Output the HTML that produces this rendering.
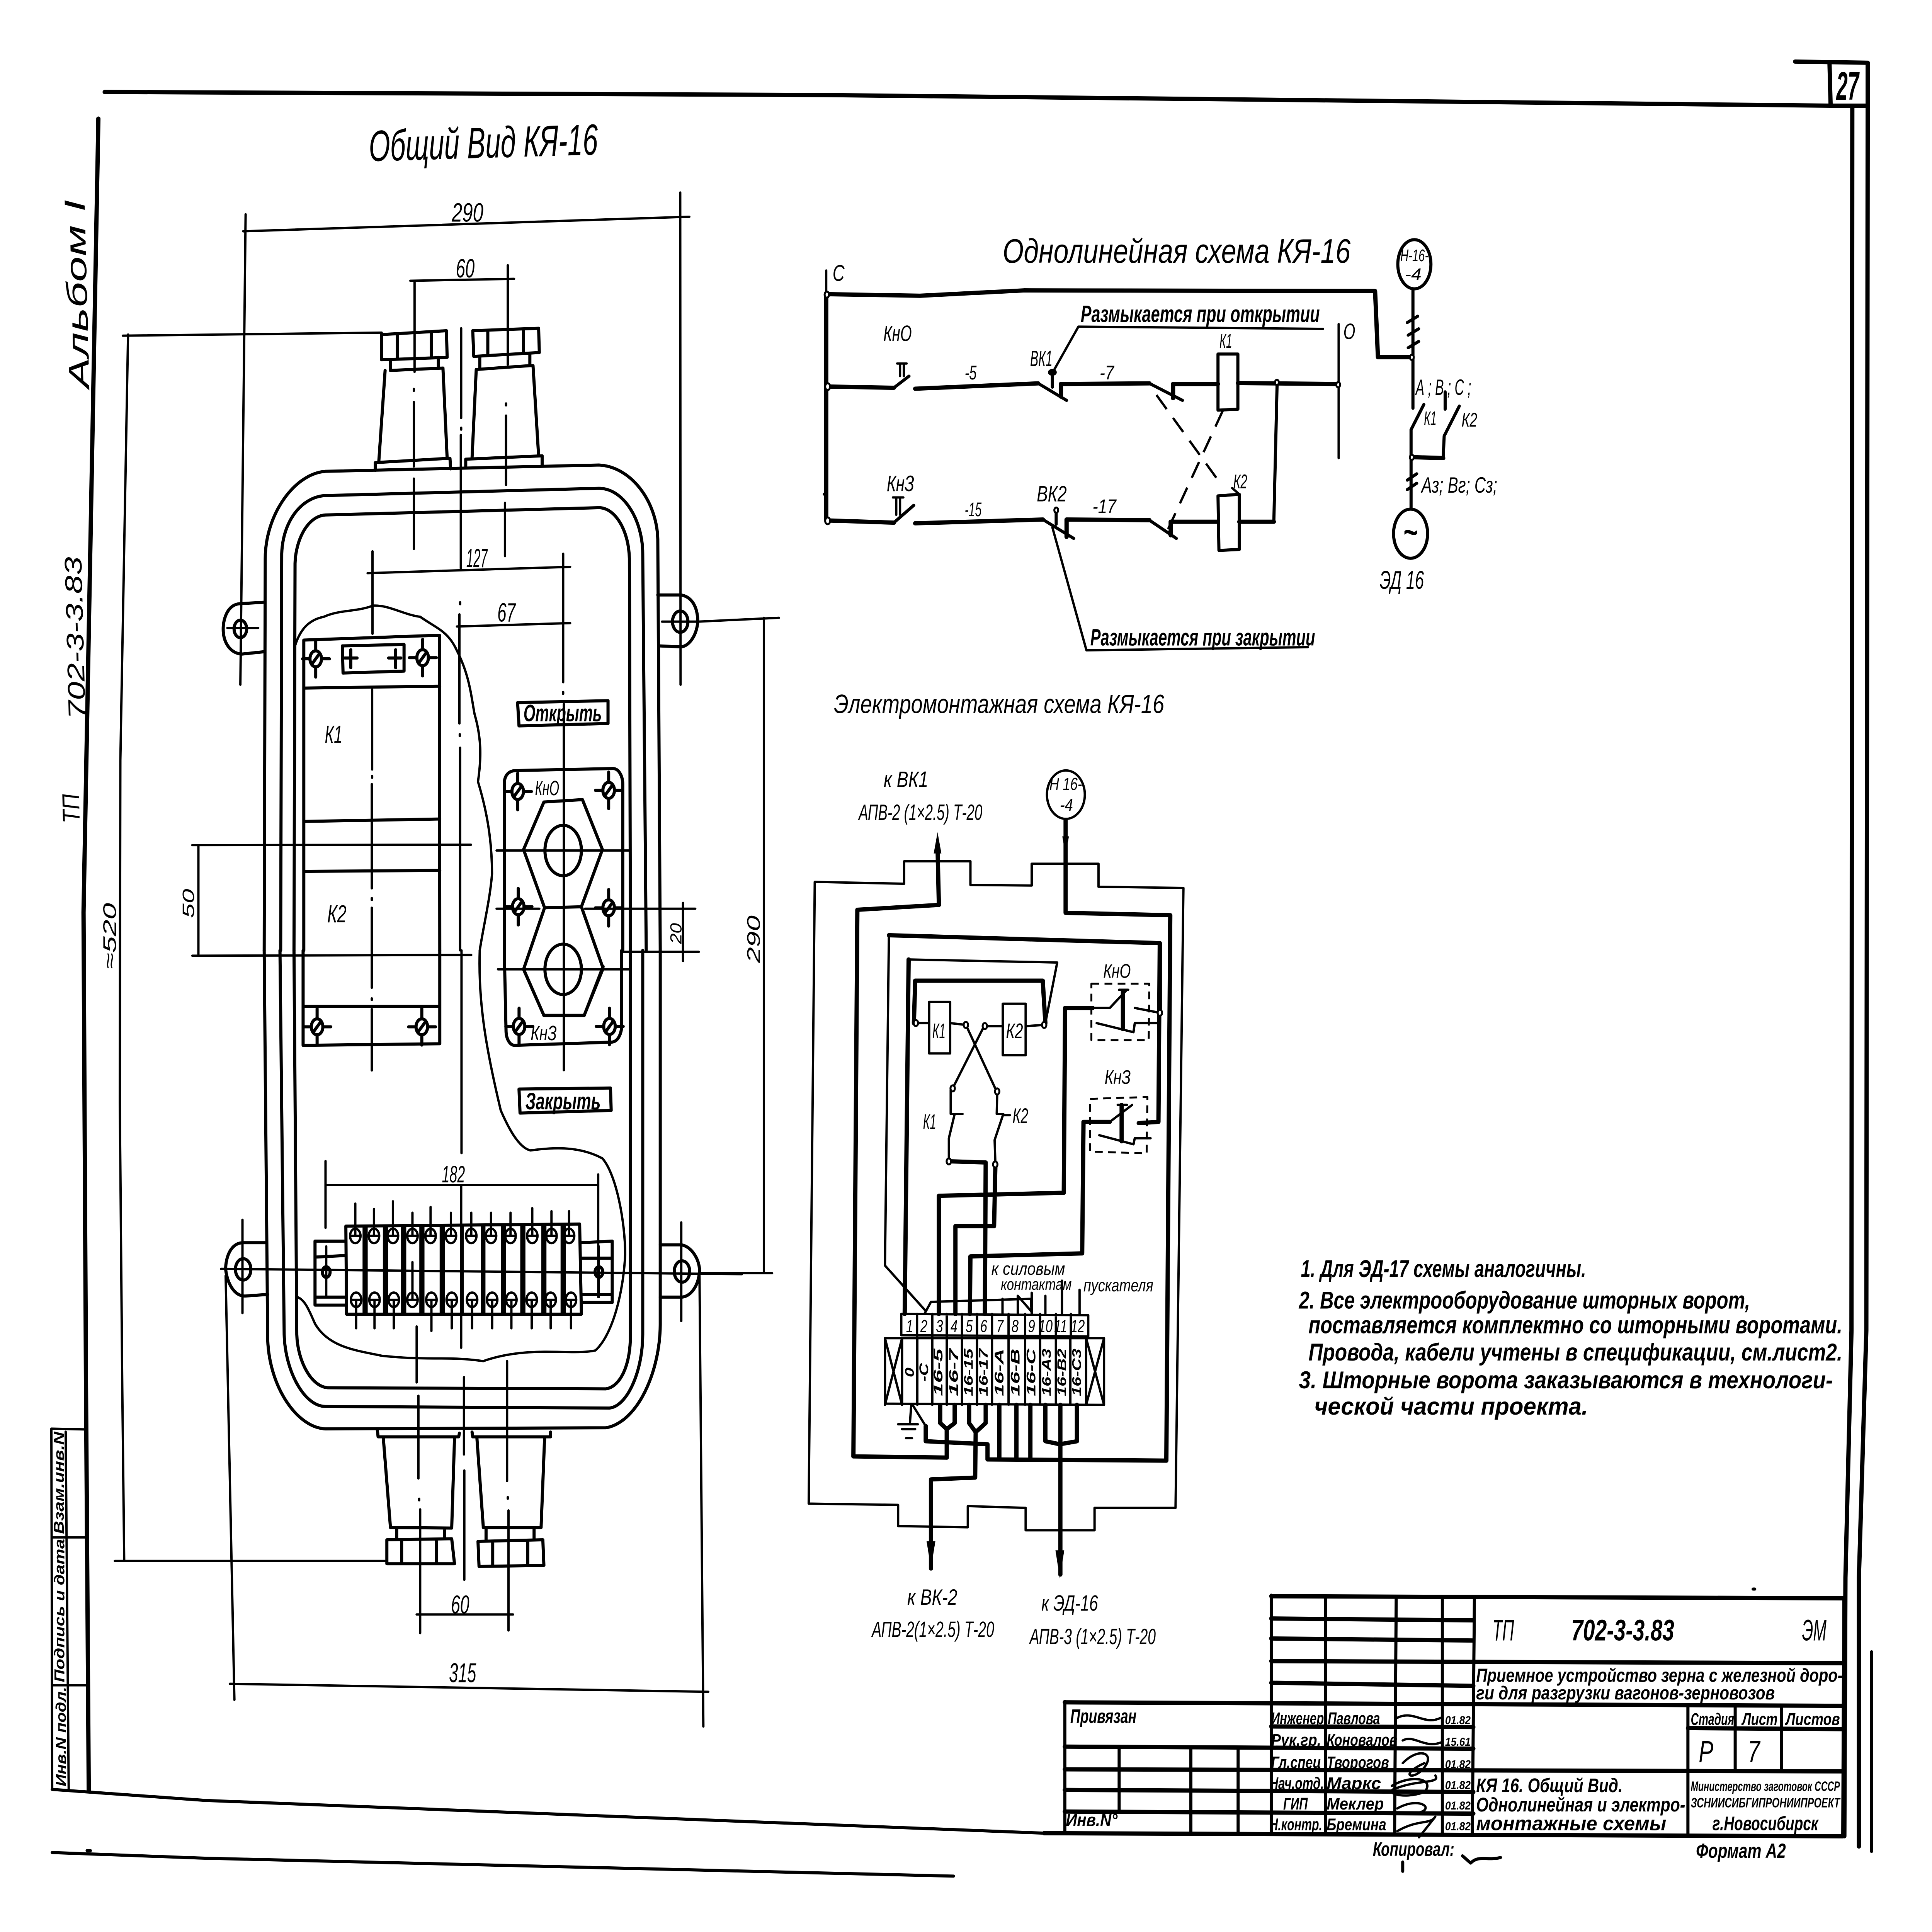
<!DOCTYPE html>
<html lang="ru"><head><meta charset="utf-8"><title>КЯ-16</title>
<style>
html,body{margin:0;padding:0;background:#fff;width:100%;height:100%;overflow:hidden}
svg{display:block;width:100vw;height:100vh}
svg *{vector-effect:non-scaling-stroke}
text{font-family:"Liberation Sans","DejaVu Sans",sans-serif;font-style:italic;fill:#000;stroke:none}
.b{font-weight:bold}
.l{fill:none;stroke:#000;stroke-width:8;stroke-linecap:round;stroke-linejoin:round}
.n{stroke-width:6}.h{stroke-width:11}.d{stroke-dasharray:45 28;stroke-linecap:butt}.e{stroke-dasharray:20 14;stroke-linecap:butt;stroke-width:5}
</style></head><body>
<svg xmlns="http://www.w3.org/2000/svg" viewBox="0 0 7031 5082" preserveAspectRatio="none">
<rect width="7031" height="5082" fill="#fff"/>

<!-- FRAME -->
<g class="l">
<path class="h" d="M381 242L3000 250L6658 278"/>
<path class="h" d="M358 312L304 2400L313 3650L323 4711"/>
<path class="h" d="M6533 162L6797 165L6797 280L6792 3500L6765 4150L6765 4857"/>
<path class="h" d="M6658 165L6662 278L6797 278"/>
<path class="h" d="M6741 280L6738 3500L6716 4150L6712 4830"/>
<path d="M6811 4345L6811 4870"/>
<path d="M190 4707L750 4736L3800 4822"/>
<path d="M190 4873L750 4888L3470 4935"/>
<path class="n" d="M187 3758L313 3760M187 3758L190 4707M239 3766L250 4707M188 4044H315M193 4433H322"/>
<path d="M317 4868h12M3000 1300h6M6380 4180h6"/>
<path class="n" d="M418 4106L1401 4106"/>
<path class="n" d="M466 880L438 2000L436 2900L445 3650L452 4106"/>
<path class="n" d="M447 883L1389 875"/>
<path class="n" d="M700 2223L1714 2222M700 2514L1715 2512M722 2223L722 2510"/>
<path class="n" d="M2546 1635L2835 1625M2548 3349L2810 3349M2780 1625L2780 3349"/>
</g>

<!-- ENCLOSURE TOP (crop 1 coordinates) -->
<g class="l" transform="translate(700,500) scale(1.2755)">
<path d="M205 1568L208 760C208 670 290 585 380 580L1160 567C1250 570 1325 640 1328 720L1335 1568"/>
<path d="M252 1568L255 750C258 680 315 632 380 630L1160 615C1230 615 1285 680 1285 750L1295 1568"/>
<path d="M290 1568L293 770C295 720 330 672 380 670L1160 655C1205 655 1245 700 1247 760L1250 1568"/>
<path d="M205 850L135 853C100 855 88 885 88 905C88 935 110 955 140 957L205 952"/>
<circle cx="137" cy="905" r="18"/><path class="n" d="M100 903H188"/>
<path d="M1328 835L1395 835C1430 840 1442 865 1442 890C1440 915 1420 940 1395 942L1330 940"/>
<circle cx="1392" cy="890" r="22"/><path class="n" d="M1340 890H1445"/>
<path class="n" d="M145 85L1418 55M152 50L137 1020M1392 5L1393 1020"/>
<path class="n" d="M622 187L918 183M634 187V375M900 155V360"/>
<path d="M540 298L725 290L727 345L540 350ZM585 298V348M682 292V346M565 350V372M702 345V367M565 372L715 367M550 372L532 560M715 367L727 553M522 578V562L735 553L737 575"/>
<path d="M800 290L988 285L990 335L803 343ZM843 290V340M945 287V336M820 345V368M963 338V362M810 370L963 362L972 362M810 370L798 553M972 362L988 548M780 570V555L998 548V567"/>
<path class="n" d="M632 437V570M632 595V740M632 410v4M895 465V608M892 645V755M895 440v4M767 285V470M767 490v4M766 505V780M764 850v4M762 875V1100M763 1122v4M764 1150V1568"/>
<path class="n" d="M500 790L1078 777M514 745V915M1058 750V1015M1058 1035v4M1060 1060V1195M755 900L1078 893"/>
<path class="n" d="M293 940C310 900 340 885 375 880C420 865 470 870 515 857C560 855 600 875 650 880C700 905 730 910 755 950C790 1000 795 1040 805 1080C825 1130 825 1170 815 1220C840 1280 855 1340 855 1410C850 1460 830 1520 820 1568"/>
<path d="M318 1568V928L705 918L706 1568M320 1027L706 1023M320 1302L706 1297M318 1405L706 1403"/>
<path d="M428 940L604 937V992L430 996ZM435 965H470M452 948V985M560 965H595M580 948V985"/>
<path class="n" d="M513 1030V1195M513 1208v4M512 1225V1440M512 1460v4M512 1480V1568"/>
<path d="M928 1057L1186 1053V1100L932 1105Z"/>
<path d="M890 1568V1225C890 1205 905 1197 925 1197L1200 1193C1218 1193 1228 1210 1228 1225V1568"/>
<path d="M945 1360L1003 1262L1113 1257L1170 1360L1110 1478L1005 1480ZM1005 1480L945 1607L1003 1702H1118L1172 1605L1110 1478"/>
<circle cx="1058" cy="1362" r="52"/><circle cx="1058" cy="1607" r="52"/>
<path class="n" d="M1060 1105V1815M868 1362H1250M868 1482H990M1120 1482H1435M872 1607H1250M1230 1571H1445M1400 1470V1590"/>
</g>

<!-- ENCLOSURE BOTTOM (crop 2 coordinates) -->
<g class="l" transform="translate(700,2500) scale(1.2755,1.403)">
<path d="M205 0L215 730C220 820 300 895 380 897L1180 895C1270 885 1335 790 1335 700L1335 0"/>
<path d="M250 0L262 720C265 790 320 855 380 855L1190 858C1240 855 1285 790 1285 720V0"/>
<path d="M290 0L298 720C300 770 340 820 390 820L1180 822C1220 818 1250 780 1250 720V0"/>
<path d="M210 548L145 548C110 548 95 575 95 598C100 625 120 648 150 648L215 645"/>
<ellipse cx="145" cy="598" rx="22" ry="20"/>
<path d="M1335 552L1395 552C1425 555 1447 580 1447 600C1445 630 1420 650 1395 650L1335 650"/>
<ellipse cx="1397" cy="602" rx="22" ry="20"/>
<path class="n" d="M143 505V680M1395 510V695M82 597L1568 607"/>
<path class="n" d="M95 610L120 1405M1447 610L1458 1455M107 1375L1472 1390"/>
<path class="n" d="M640 1245L915 1245M640 705V810M645 835V990M647 1028v3M650 1048V1280M898 770V995M900 1025v3M902 1050V1275"/>
<path class="n" d="M768 0V380M767 440V745M775 800V945M776 975V1180"/>
<path d="M528 900L530 912H760L762 905M545 915L565 1080M748 915L740 1083M565 1082L740 1083M583 1083V1103M720 1083V1103M555 1105L740 1103L748 1150H555ZM597 1105V1150M697 1105V1150"/>
<path d="M798 903L800 912H1022V903M812 915L830 1080M1005 915L995 1082M830 1082L995 1082M838 1083V1105M975 1083V1105M815 1108L1000 1105L1003 1153L818 1155ZM857 1108V1153M957 1106V1153"/>
<path d="M316 0V178L706 175V0M316 105H706"/>
<path class="n" d="M512 0V70M512 90v3M512 110V225"/>
<path d="M890 0L895 150C895 165 905 178 920 178L1195 172C1215 172 1225 155 1225 140V0"/>
<path d="M945 35L1003 122H1118L1172 30"/>
<path d="M932 260L1193 258L1195 300L935 305Z"/>
<path class="n" d="M820 0C815 100 840 190 880 300C900 330 930 370 965 375C1020 370 1100 365 1170 390C1210 420 1235 510 1235 570C1230 640 1200 720 1150 750C1080 760 960 740 830 770C720 760 690 770 540 760C470 750 390 745 350 700C330 670 320 655 300 650"/>
<path d="M438 517L1105 513L1110 682L440 682Z"/>
<path d="M490 517V682M548 517V682M600 517V682M652 517V682M710 517V682M770 517V682M828 517V682M885 517V682M940 517V682M1000 517V682M1055 517V682"/>
<path class="n" d="M497 517V682M555 517V682M607 517V682M659 517V682M717 517V682M833 517V682M892 517V682M947 517V682M1007 517V682M1062 517V682"/>
<path d="M438 545H350V665H440M350 575L438 572M350 650H438M1110 548L1198 545V660H1110M1110 577H1198M1110 645H1198"/>
<ellipse cx="382" cy="603" rx="11" ry="10"/><ellipse cx="1160" cy="603" rx="11" ry="10"/>
<path class="n" d="M382 555V650M1160 555V650M385 440L1158 440M380 395V520M1158 420V650"/>
</g>

<!-- screws -->
<g class="l">
<g transform="translate(1149,1733)"><circle r="21"/><path d="M-13 13L13-13M-48 0H-21M21 0H50M0-48V-21M0 21V48"/></g>
<g transform="translate(1538,1730)"><circle r="21"/><path d="M-13 13L13-13M-48 0H-21M21 0H50M0-48V-21M0 21V48"/></g>
<g transform="translate(1154,2701)"><circle r="21"/><path d="M-13 13L13-13M-48 0H-21M21 0H50M0-48V-21M0 21V48"/></g>
<g transform="translate(1535,2701)"><circle r="21"/><path d="M-13 13L13-13M-48 0H-21M21 0H50M0-48V-21M0 21V48"/></g>
<g transform="translate(1884,2082)"><circle r="21"/><path d="M-13 13L13-13M-48 0H-21M21 0H50M0-48V-21M0 21V48"/></g>
<g transform="translate(2215,2079)"><circle r="21"/><path d="M-13 13L13-13M-48 0H-21M21 0H50M0-48V-21M0 21V48"/></g>
<g transform="translate(1886,2385)"><circle r="21"/><path d="M-13 13L13-13M-48 0H-21M21 0H50M0-48V-21M0 21V48"/></g>
<g transform="translate(2215,2388)"><circle r="21"/><path d="M-13 13L13-13M-48 0H-21M21 0H50M0-48V-21M0 21V48"/></g>
<g transform="translate(1889,2700)"><circle r="21"/><path d="M-13 13L13-13M-48 0H-21M21 0H50M0-48V-21M0 21V48"/></g>
<g transform="translate(2218,2700)"><circle r="21"/><path d="M-13 13L13-13M-48 0H-21M21 0H50M0-48V-21M0 21V48"/></g>
</g>
<g class="l n">
<circle cx="1293" cy="3251" r="19"/><circle cx="1361" cy="3251" r="19"/><circle cx="1430" cy="3251" r="19"/><circle cx="1501" cy="3251" r="19"/><circle cx="1567" cy="3251" r="19"/><circle cx="1641" cy="3251" r="19"/><circle cx="1715" cy="3251" r="19"/><circle cx="1787" cy="3251" r="19"/><circle cx="1858" cy="3251" r="19"/><circle cx="1937" cy="3251" r="19"/><circle cx="2007" cy="3251" r="19"/><circle cx="2071" cy="3251" r="19"/>
<circle cx="1296" cy="3419" r="19"/><circle cx="1363" cy="3419" r="19"/><circle cx="1433" cy="3419" r="19"/><circle cx="1501" cy="3419" r="19"/><circle cx="1570" cy="3419" r="19"/><circle cx="1644" cy="3419" r="19"/><circle cx="1718" cy="3419" r="19"/><circle cx="1791" cy="3419" r="19"/><circle cx="1861" cy="3419" r="19"/><circle cx="1935" cy="3419" r="19"/><circle cx="2004" cy="3419" r="19"/><circle cx="2078" cy="3419" r="19"/>
<path d="M1274 3251h38M1293 3166v85M1342 3251h38M1361 3180v71M1411 3251h38M1430 3160v91M1482 3251h38M1501 3190v61M1548 3251h38M1567 3175v76M1622 3251h38M1641 3190v61M1696 3251h38M1715 3190v61M1768 3251h38M1787 3190v61M1839 3251h38M1858 3190v61M1918 3251h38M1937 3178v73M1988 3251h38M2007 3186v65M2052 3251h38M2071 3186v65"/>
<path d="M1277 3419h38M1296 3419v75M1344 3419h38M1363 3419v75M1414 3419h38M1433 3419v75M1482 3419h38M1501 3320v99M1551 3419h38M1570 3419v82M1625 3419h38M1644 3419v75M1699 3419h38M1718 3419v75M1772 3419h38M1791 3419v75M1842 3419h38M1861 3419v75M1916 3419h38M1935 3419v75M1985 3419h38M2004 3419v75M2059 3419h38M2078 3419v75"/>
</g>

<!-- SINGLE-LINE DIAGRAM (crop 3 coordinates) -->
<g class="l" transform="translate(2900,550) scale(1.722,.829)">
<path class="n" d="M62 195V270"/>
<path class="h" d="M62 270V985"/>
<path class="h" d="M65 270L260 275L480 258L1222 260L1228 470L1298 470"/>
<path class="h" d="M65 563L205 567M250 570L510 553M558 595V555L745 553M795 600V555L890 555M932 552L1145 555"/>
<path d="M205 567L237 530M510 553L570 607M745 553L815 607"/>
<path class="n" d="M212 490H232M218 490V530M226 490V530"/>
<path d="M540 520V565"/>
<circle cx="540" cy="518" r="6"/>
<path d="M890 460H932V635L890 638Z"/>
<path class="n" d="M1145 365V790"/>
<path class="n" d="M540 520L595 373L1112 380"/>
<path class="h" d="M65 988L205 995M250 997L520 985M570 1040V985L745 987M790 1035V992L890 992M935 992L1008 992"/>
<path d="M205 995L247 940M520 985L585 1045M745 987L802 1045M1008 992L1015 550"/>
<path class="n" d="M203 915H225M210 915V970M218 915V970"/>
<path d="M548 960V1000"/>
<path d="M890 910L935 905V1080L892 1083Z"/>
<path class="n" d="M540 1010L612 1400L1080 1390M920 885L935 905"/>
<path class="n d" d="M760 590L890 860M900 640L780 1030"/>
<ellipse cx="1305" cy="175" rx="35" ry="78"/>
<path d="M1302 255V632M1290 360L1312 340M1292 400L1314 380M1292 440L1314 420M1370 580V635M1325 620L1298 700V950M1400 625L1368 720L1366 788M1290 860L1310 840M1290 890L1310 870"/>
<path class="h" d="M1298 787L1366 790"/>
<ellipse cx="1297" cy="1030" rx="36" ry="78"/>
</g>
<g fill="#fff" stroke="#000" stroke-width="5">
<circle cx="3009" cy="775" r="8"/><circle cx="3012" cy="1017" r="9"/><circle cx="3012" cy="1370" r="9"/>
<circle cx="4647" cy="1006" r="7"/><circle cx="4870" cy="1012" r="7"/><circle cx="5138" cy="940" r="7"/><circle cx="5138" cy="1203" r="7"/><circle cx="3844" cy="1342" r="7"/>
</g>

<!-- WIRING DIAGRAM (crop 4 coordinates) -->
<g class="l n" transform="translate(2900,1950) scale(.957,1.594)">
<path d="M68 232L408 235V198H660V237L893 238V202H1147V240L1470 242L1440 1265H1132V1302H870V1265L650 1262V1297L385 1295V1260L45 1258Z"/>
<path class="h" d="M540 270L535 175M540 270L230 278L215 1180L570 1182V1135"/>
<path class="h" d="M1022 130V283L1420 287L1405 1187L725 1185V1160L490 1155V1130"/>
<path class="h" d="M350 320L1380 333V445"/>
<path d="M350 320L335 865L490 940M425 360L990 365L945 465"/>
<path class="h" d="M1380 333L1375 628L1300 630M425 360L410 945M450 395H935L945 465M450 395L445 465"/>
<path d="M503 430H583V515H503ZM783 433H870V518H783ZM452 465H503M583 465L643 468M715 470H783M870 470L940 468M645 470L760 578M712 470L592 573"/>
<path d="M585 575V615H600L578 655V693M600 615H630M762 578L760 615H785L752 658L755 698M785 617H810"/>
<path class="h" d="M578 693L718 695L715 945M755 698L750 800L603 800V945M540 945V750L1015 745L1020 440L1125 440M658 945L660 850L1085 845L1090 628H1190"/>
<path d="M1125 440H1190L1255 410M1190 628L1275 600M1140 465L1280 480M1280 480L1285 465H1380M1285 440L1380 448M1150 650L1280 665L1285 655H1345"/>
<path class="h" d="M1240 412V475M1235 600V660"/>
<path d="M1225 410H1260M1220 600H1255"/>
<path class="e" d="M1120 400H1340L1338 493H1120ZM1115 590L1333 587L1330 680L1115 677Z"/>
<path d="M397 945L1108 947V982L397 980ZM457 945V985M515 945V985M570 945V985M628 945V985M685 945V985M742 945V985M805 945V985M868 945V985M925 945V985M985 945V985M1042 945V985"/>
<path d="M335 985H1168V1095L335 1093ZM400 985V1095M458 985V1095M515 985V1095M570 985V1095M628 985V1095M685 985V1095M742 985V1095M805 985V1095M868 985V1095M925 985V1095M985 985V1095M1040 985V1095M1100 985V1095"/>
<path d="M335 985L400 1095M400 985L335 1095M1100 985L1168 1095M1168 985L1100 1095"/>
<path d="M485 945L510 925L890 920L893 945M782 945V920M840 945V915L890 940M893 910V945M945 915V945M1008 890V945M1075 905V945"/>
<path class="h" d="M545 1095V1125L570 1135L600 1125V1095M570 1135V1182M655 1095V1125L680 1140L718 1125V1095M680 1140L678 1215L510 1218V1365M770 1095V1185M835 1095V1185M888 1095V1185M945 1095V1155L1000 1160L1065 1155V1095M1002 1095V1375"/>
<path d="M435 1095L430 1125M385 1127H460M400 1135H450M415 1150H438M440 1095L490 1130"/>
<ellipse cx="1023" cy="88" rx="72" ry="40"/>
</g>
<g fill="#000">
<path d="M3398 2245L3426 2245L3412 2189Z M3866 2200L3890 2200L3878 2250Z M3372 4054L3404 4054L3388 4126Z M3841 4078L3873 4078L3857 4152Z"/>
</g>
<g fill="#fff" stroke="#000" stroke-width="5">
<circle cx="3333" cy="2691" r="8"/><circle cx="3515" cy="2696" r="8"/><circle cx="3584" cy="2699" r="8"/><circle cx="3800" cy="2696" r="8"/>
<circle cx="3467" cy="2863" r="8"/><circle cx="3629" cy="2871" r="8"/><circle cx="3453" cy="3055" r="8"/><circle cx="3622" cy="3063" r="8"/><circle cx="4221" cy="2664" r="8"/>
</g>

<!-- TITLE BLOCK (crop 5 coordinates) -->
<g class="l" transform="translate(3800,4150) scale(1.977,.542)">
<path class="h" d="M418 90L1472 100M418 198L790 207M418 295L790 305M418 405L1472 415M418 510L790 525M38 605L1472 622M418 722L790 725M38 820L790 830M38 930L1470 940M38 1030L790 1040M38 1135L790 1145M0 1240L1470 1255M1185 730L1470 735"/>
<path d="M418 85V1240M518 100V1240M648 105L645 1240M733 105V1250M792 105L788 1245M1185 622V1250M1272 625V935M1357 625V935M1472 100L1470 1250M38 600V1240M138 825V1135M270 825V1240M357 825V1240"/>
<path class="n" d="M650 680C680 640 700 720 730 680M660 790C680 760 700 830 730 800M660 900C690 820 720 850 700 920C680 990 650 960 700 900M640 1010C680 950 720 980 700 1040C660 1080 620 1040 650 1020C690 980 730 1000 720 960M650 1120C690 1060 720 1120 690 1140M650 1230C690 1170 710 1200 720 1160L690 1260"/>
<path d="M770 1350L785 1385C800 1345 815 1375 840 1358M660 1380V1425"/>
</g>

<!-- TEXT -->
<text x="1343" y="424" font-size="115" textLength="834" lengthAdjust="spacingAndGlyphs" transform="rotate(-1.2 1343 424)">Общий  Вид  КЯ-16</text>
<text transform="translate(325,1021) rotate(-92)" font-size="105" textLength="498" lengthAdjust="spacingAndGlyphs">Альбом  I</text>
<text transform="translate(311,1890) rotate(-92)" font-size="88" textLength="427" lengthAdjust="spacingAndGlyphs">702-3-3.83</text>
<text transform="translate(290,2164) rotate(-92)" font-size="88" textLength="77" lengthAdjust="spacingAndGlyphs">ТП</text>
<text transform="translate(232,4035) rotate(-90)" class="b" font-size="52" textLength="269" lengthAdjust="spacingAndGlyphs">Взам.инв.N</text>
<text transform="translate(234,4425) rotate(-90)" class="b" font-size="52" textLength="377" lengthAdjust="spacingAndGlyphs">Подпись и дата</text>
<text transform="translate(240,4699) rotate(-90)" class="b" font-size="52" textLength="262" lengthAdjust="spacingAndGlyphs">Инв.N подл.</text>
<text x="6683" y="262" class="b" font-size="105" textLength="82" lengthAdjust="spacingAndGlyphs">27</text>

<text x="1644" y="583" font-size="70" textLength="115" lengthAdjust="spacingAndGlyphs">290</text>
<text x="1659" y="730" font-size="70" textLength="68" lengthAdjust="spacingAndGlyphs">60</text>
<text x="1697" y="1492" font-size="70" textLength="77" lengthAdjust="spacingAndGlyphs">127</text>
<text x="1810" y="1635" font-size="70" textLength="66" lengthAdjust="spacingAndGlyphs">67</text>
<text x="1182" y="1954" font-size="65" textLength="64" lengthAdjust="spacingAndGlyphs">К1</text>
<text x="1191" y="2426" font-size="65" textLength="70" lengthAdjust="spacingAndGlyphs">К2</text>
<text transform="translate(706,2415) rotate(-90)" font-size="60" textLength="77" lengthAdjust="spacingAndGlyphs">50</text>
<text transform="translate(2480,2483) rotate(-90)" font-size="58" textLength="55" lengthAdjust="spacingAndGlyphs">20</text>
<text transform="translate(2765,2533) rotate(-90)" font-size="66" textLength="125" lengthAdjust="spacingAndGlyphs">290</text>
<text transform="translate(422,2550) rotate(-90)" font-size="66" textLength="175" lengthAdjust="spacingAndGlyphs">≈520</text>
<text x="1905" y="1897" class="b" font-size="62" textLength="285" lengthAdjust="spacingAndGlyphs">Открыть</text>
<text x="1947" y="2092" font-size="55" textLength="88" lengthAdjust="spacingAndGlyphs">КнО</text>
<text x="1931" y="2736" font-size="55" textLength="95" lengthAdjust="spacingAndGlyphs">КнЗ</text>
<text x="1912" y="2918" class="b" font-size="62" textLength="274" lengthAdjust="spacingAndGlyphs">Закрыть</text>
<text x="1608" y="3110" font-size="62" textLength="84" lengthAdjust="spacingAndGlyphs">182</text>
<text x="1641" y="4244" font-size="68" textLength="67" lengthAdjust="spacingAndGlyphs">60</text>
<text x="1634" y="4425" font-size="72" textLength="99" lengthAdjust="spacingAndGlyphs">315</text>

<text x="3649" y="691" font-size="90" textLength="1266" lengthAdjust="spacingAndGlyphs">Однолинейная   схема КЯ-16</text>
<text x="3933" y="847" class="b" font-size="62" textLength="870" lengthAdjust="spacingAndGlyphs">Размыкается при открытии</text>
<text x="3968" y="1698" class="b" font-size="62" textLength="818" lengthAdjust="spacingAndGlyphs">Размыкается при закрытии</text>
<text x="3030" y="739" font-size="60">С</text>
<text x="3215" y="897" font-size="58" textLength="103" lengthAdjust="spacingAndGlyphs">КнО</text>
<text x="3227" y="1292" font-size="58" textLength="100" lengthAdjust="spacingAndGlyphs">КнЗ</text>
<text x="3749" y="963" font-size="58" textLength="81" lengthAdjust="spacingAndGlyphs">ВК1</text>
<text x="3773" y="1319" font-size="58" textLength="109" lengthAdjust="spacingAndGlyphs">ВК2</text>
<text x="3511" y="998" font-size="52" textLength="43" lengthAdjust="spacingAndGlyphs">-5</text>
<text x="4002" y="998" font-size="52" textLength="52" lengthAdjust="spacingAndGlyphs">-7</text>
<text x="3511" y="1358" font-size="52" textLength="61" lengthAdjust="spacingAndGlyphs">-15</text>
<text x="3976" y="1350" font-size="52" textLength="86" lengthAdjust="spacingAndGlyphs">-17</text>
<text x="4438" y="915" font-size="52" textLength="46" lengthAdjust="spacingAndGlyphs">К1</text>
<text x="4488" y="1284" font-size="52" textLength="51" lengthAdjust="spacingAndGlyphs">К2</text>
<text x="4889" y="892" font-size="58" textLength="43" lengthAdjust="spacingAndGlyphs">О</text>
<text x="5096" y="687" font-size="44" textLength="103" lengthAdjust="spacingAndGlyphs">Н-16-</text>
<text x="5113" y="737" font-size="44" textLength="60" lengthAdjust="spacingAndGlyphs">-4</text>
<text x="5152" y="1039" font-size="58" textLength="202" lengthAdjust="spacingAndGlyphs">А ; В ; С ;</text>
<text x="5182" y="1118" font-size="52" textLength="46" lengthAdjust="spacingAndGlyphs">К1</text>
<text x="5319" y="1122" font-size="52" textLength="57" lengthAdjust="spacingAndGlyphs">К2</text>
<text x="5173" y="1296" font-size="58" textLength="276" lengthAdjust="spacingAndGlyphs">Аз; Вг; Сз;</text>
<text x="5106" y="1430" font-size="90" font-weight="bold">~</text>
<text x="5021" y="1549" font-size="68" textLength="161" lengthAdjust="spacingAndGlyphs">ЭД 16</text>

<text x="3035" y="1876" font-size="70" textLength="1202" lengthAdjust="spacingAndGlyphs">Электромонтажная схема КЯ-16</text>
<text x="3216" y="2070" font-size="58" textLength="162" lengthAdjust="spacingAndGlyphs">к ВК1</text>
<text x="3125" y="2157" font-size="58" textLength="450" lengthAdjust="spacingAndGlyphs">АПВ-2 (1×2.5) Т-20</text>
<text x="3819" y="2078" font-size="46" textLength="119" lengthAdjust="spacingAndGlyphs">Н 16-</text>
<text x="3857" y="2133" font-size="46" textLength="48" lengthAdjust="spacingAndGlyphs">-4</text>
<text x="3393" y="2731" font-size="56" textLength="48" lengthAdjust="spacingAndGlyphs">К1</text>
<text x="3661" y="2731" font-size="56" textLength="62" lengthAdjust="spacingAndGlyphs">К2</text>
<text x="3359" y="2970" font-size="56" textLength="48" lengthAdjust="spacingAndGlyphs">К1</text>
<text x="3685" y="2954" font-size="56" textLength="57" lengthAdjust="spacingAndGlyphs">К2</text>
<text x="4015" y="2572" font-size="52" textLength="100" lengthAdjust="spacingAndGlyphs">КнО</text>
<text x="4020" y="2851" font-size="52" textLength="95" lengthAdjust="spacingAndGlyphs">КнЗ</text>
<text x="3302" y="4221" font-size="58" textLength="182" lengthAdjust="spacingAndGlyphs">к ВК-2</text>
<text x="3173" y="4306" font-size="58" textLength="445" lengthAdjust="spacingAndGlyphs">АПВ-2(1×2.5) Т-20</text>
<text x="3790" y="4237" font-size="58" textLength="206" lengthAdjust="spacingAndGlyphs">к ЭД-16</text>
<text x="3747" y="4325" font-size="58" textLength="459" lengthAdjust="spacingAndGlyphs">АПВ-3 (1×2.5) Т-20</text>
<text x="3608" y="3353" font-size="46" textLength="268" lengthAdjust="spacingAndGlyphs">к силовым</text>
<text x="3642" y="3393" font-size="42" textLength="258" lengthAdjust="spacingAndGlyphs">контактам</text>
<text x="3943" y="3397" font-size="46" textLength="254" lengthAdjust="spacingAndGlyphs">пускателя</text>
<g font-size="46" text-anchor="middle">
<text x="3310" y="3504">1</text><text x="3362" y="3504">2</text><text x="3419" y="3504">3</text><text x="3472" y="3504">4</text><text x="3527" y="3504">5</text><text x="3580" y="3504">6</text><text x="3639" y="3504">7</text><text x="3694" y="3504">8</text><text x="3754" y="3504">9</text><text x="3805" y="3504">10</text><text x="3860" y="3504">11</text><text x="3922" y="3504">12</text>
</g>
<g font-size="46" class="b" text-anchor="middle">
<text transform="translate(3326,3610) rotate(-90)">0</text>
<text transform="translate(3378,3610) rotate(-90)">-С</text>
<text transform="translate(3430,3610) rotate(-90)" textLength="125" lengthAdjust="spacingAndGlyphs">16-5</text>
<text transform="translate(3486,3610) rotate(-90)" textLength="125" lengthAdjust="spacingAndGlyphs">16-7</text>
<text transform="translate(3540,3610) rotate(-90)" textLength="125" lengthAdjust="spacingAndGlyphs">16-15</text>
<text transform="translate(3594,3610) rotate(-90)" textLength="125" lengthAdjust="spacingAndGlyphs">16-17</text>
<text transform="translate(3652,3610) rotate(-90)" textLength="125" lengthAdjust="spacingAndGlyphs">16-А</text>
<text transform="translate(3710,3610) rotate(-90)" textLength="125" lengthAdjust="spacingAndGlyphs">16-В</text>
<text transform="translate(3768,3610) rotate(-90)" textLength="125" lengthAdjust="spacingAndGlyphs">16-С</text>
<text transform="translate(3824,3610) rotate(-90)" textLength="125" lengthAdjust="spacingAndGlyphs">16-А3</text>
<text transform="translate(3880,3610) rotate(-90)" textLength="125" lengthAdjust="spacingAndGlyphs">16-В2</text>
<text transform="translate(3934,3610) rotate(-90)" textLength="125" lengthAdjust="spacingAndGlyphs">16-С3</text>
</g>

<g class="b" font-size="64">
<text x="4734" y="3359" textLength="1038" lengthAdjust="spacingAndGlyphs">1. Для ЭД-17 схемы  аналогичны.</text>
<text x="4727" y="3442" textLength="1642" lengthAdjust="spacingAndGlyphs">2. Все электрооборудование шторных ворот,</text>
<text x="4762" y="3507" textLength="1943" lengthAdjust="spacingAndGlyphs">поставляется комплектно со шторными воротами.</text>
<text x="4762" y="3579" textLength="1943" lengthAdjust="spacingAndGlyphs">Провода, кабели учтены в спецификации, см.лист2.</text>
<text x="4727" y="3652" textLength="1943" lengthAdjust="spacingAndGlyphs">3. Шторные ворота заказываются в технологи-</text>
<text x="4783" y="3721" textLength="996" lengthAdjust="spacingAndGlyphs">ческой  части  проекта.</text>
</g>

<text x="5431" y="4315" font-size="78" textLength="79" lengthAdjust="spacingAndGlyphs">ТП</text>
<text x="5718" y="4315" class="b" font-size="78" textLength="375" lengthAdjust="spacingAndGlyphs">702-3-3.83</text>
<text x="6558" y="4315" font-size="78" textLength="89" lengthAdjust="spacingAndGlyphs">ЭМ</text>
<g class="b">
<text x="5372" y="4424" font-size="50" textLength="1334" lengthAdjust="spacingAndGlyphs">Приемное устройство зерна с железной доро-</text>
<text x="5372" y="4470" font-size="50" textLength="1087" lengthAdjust="spacingAndGlyphs">ги для разгрузки вагонов-зерновозов</text>
<text x="3895" y="4532" font-size="52" textLength="241" lengthAdjust="spacingAndGlyphs">Привязан</text>
<text x="3879" y="4803" font-size="46" textLength="188" lengthAdjust="spacingAndGlyphs">Инв.N°</text>
<g font-size="44">
<text x="4626" y="4535" textLength="192" lengthAdjust="spacingAndGlyphs">Инженер</text><text x="4832" y="4535" textLength="190" lengthAdjust="spacingAndGlyphs">Павлова</text><text x="5259" y="4535" font-size="30" textLength="93" lengthAdjust="spacingAndGlyphs">01.82</text>
<text x="4626" y="4592" textLength="182" lengthAdjust="spacingAndGlyphs">Рук.гр.</text><text x="4828" y="4592" textLength="257" lengthAdjust="spacingAndGlyphs">Коновалов</text><text x="5259" y="4592" font-size="30" textLength="93" lengthAdjust="spacingAndGlyphs">15.61</text>
<text x="4626" y="4651" textLength="182" lengthAdjust="spacingAndGlyphs">Гл.спец</text><text x="4828" y="4651" textLength="227" lengthAdjust="spacingAndGlyphs">Творогов</text><text x="5259" y="4651" font-size="30" textLength="93" lengthAdjust="spacingAndGlyphs">01.82</text>
<text x="4620" y="4706" textLength="198" lengthAdjust="spacingAndGlyphs">Нач.отд.</text><text x="4828" y="4706" textLength="198" lengthAdjust="spacingAndGlyphs">Маркс</text><text x="5259" y="4706" font-size="30" textLength="93" lengthAdjust="spacingAndGlyphs">01.82</text>
<text x="4670" y="4760" textLength="89" lengthAdjust="spacingAndGlyphs">ГИП</text><text x="4828" y="4760" textLength="208" lengthAdjust="spacingAndGlyphs">Меклер</text><text x="5259" y="4760" font-size="30" textLength="93" lengthAdjust="spacingAndGlyphs">01.82</text>
<text x="4620" y="4814" textLength="192" lengthAdjust="spacingAndGlyphs">Н.контр.</text><text x="4828" y="4814" textLength="217" lengthAdjust="spacingAndGlyphs">Бремина</text><text x="5259" y="4814" font-size="30" textLength="93" lengthAdjust="spacingAndGlyphs">01.82</text>
<text x="6153" y="4537" textLength="158" lengthAdjust="spacingAndGlyphs">Стадия</text><text x="6340" y="4537" textLength="129" lengthAdjust="spacingAndGlyphs">Лист</text><text x="6499" y="4537" textLength="197" lengthAdjust="spacingAndGlyphs">Листов</text>
</g>
<text x="5372" y="4714" font-size="52" textLength="533" lengthAdjust="spacingAndGlyphs">КЯ 16. Общий  Вид.</text>
<text x="5372" y="4765" font-size="52" textLength="761" lengthAdjust="spacingAndGlyphs">Однолинейная и электро-</text>
<text x="5372" y="4814" font-size="52" textLength="692" lengthAdjust="spacingAndGlyphs">монтажные  схемы</text>
<text x="6153" y="4711" font-size="36" textLength="543" lengthAdjust="spacingAndGlyphs">Министерство заготовок СССР</text>
<text x="6153" y="4754" font-size="36" textLength="543" lengthAdjust="spacingAndGlyphs">ЗСНИИСИБГИПРОНИИПРОЕКТ</text>
<text x="6232" y="4814" font-size="52" textLength="385" lengthAdjust="spacingAndGlyphs">г.Новосибирск</text>
<text x="4996" y="4882" font-size="52" textLength="297" lengthAdjust="spacingAndGlyphs">Копировал:</text>
<text x="6172" y="4887" font-size="54" textLength="327" lengthAdjust="spacingAndGlyphs">Формат А2</text>
</g>
<text x="6182" y="4635" font-size="80">Р</text>
<text x="6360" y="4635" font-size="80">7</text>
</svg>
</body></html>
